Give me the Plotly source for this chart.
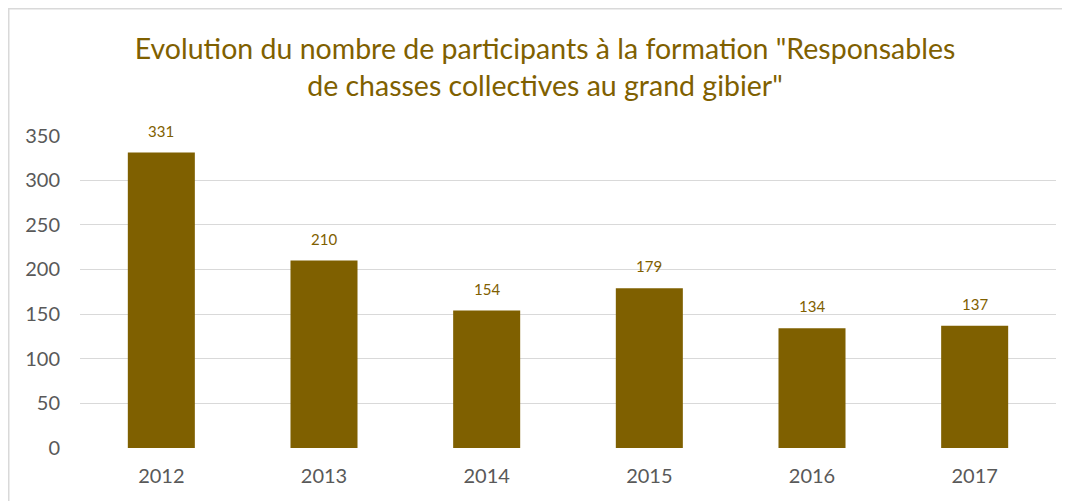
import plotly.graph_objects as go

years = ["2012", "2013", "2014", "2015", "2016", "2017"]
participants = [331, 210, 154, 179, 134, 137]
y_ticks = [0, 50, 100, 150, 200, 250, 300, 350]

title_text = 'Evolution du nombre de participants à la formation "Responsables<br>de chasses collectives au grand gibier"'

BROWN = "#7F6000"
GREY_TXT = "#595959"
GRID = "#D9D9D9"
FONT = "Lato"

W, H = 1062, 493
ML, MR, MT, MB = 72, 14, 127, 53
PW, PH = W - ML - MR, H - MT - MB

fig = go.Figure()
fig.add_trace(go.Bar(
    x=years, y=participants,
    marker=dict(color=BROWN, line=dict(width=0)),
    hoverinfo="x+y",
))

annotations = [
    dict(x=i, y=v, xref="x", yref="y", text=str(v), showarrow=False,
         yanchor="bottom", yshift=11, font=dict(family=FONT, size=15, color=BROWN))
    for i, v in enumerate(participants)
]

fig.update_layout(
    width=W, height=H,
    margin=dict(l=ML, r=MR, t=MT, b=MB, autoexpand=False),
    paper_bgcolor="white", plot_bgcolor="white",
    bargap=0.588,
    showlegend=False,
    title=dict(text=title_text, x=537 / W, xref="container", xanchor="center",
               y=1 - 51 / H, yref="container", yanchor="top",
               font=dict(family=FONT, size=28.5, color=BROWN)),
    annotations=annotations,
    xaxis=dict(type="category", range=[-0.5, len(years) - 0.5], showgrid=False, showline=False,
               zeroline=False, ticks="",
               tickfont=dict(family=FONT, size=20, color=GREY_TXT),
               ticklabelstandoff=14),
    yaxis=dict(range=[0, 350.6], tickvals=y_ticks, showgrid=True, gridcolor=GRID, gridwidth=1,
               zeroline=False, showline=False, ticks="",
               tickfont=dict(family=FONT, size=20, color=GREY_TXT),
               ticklabelstandoff=19),
    shapes=[dict(type="rect", xref="paper", yref="paper",
                 x0=-(ML - 0.75) / PW, x1=1.2, y0=-0.5, y1=(PH + MT - 0.75) / PH,
                 line=dict(color=GRID, width=1.5), fillcolor="rgba(0,0,0,0)", layer="below")],
)

fig.write_html("out.html")
